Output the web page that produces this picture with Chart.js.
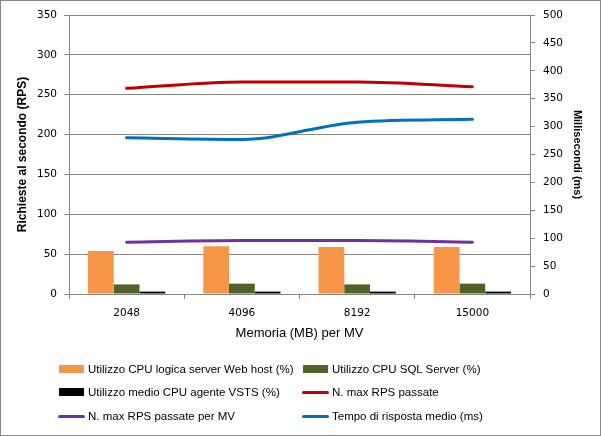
<!DOCTYPE html>
<html><head><meta charset="utf-8">
<script src="https://cdn.jsdelivr.net/npm/chart.js@4/dist/chart.umd.min.js"></script>
<style>
html,body{margin:0;padding:0;background:#fff;}
#wrap{position:relative;width:601px;height:436px;}
#legend{position:absolute;left:0;top:0;width:601px;height:436px;pointer-events:none;font-family:"Liberation Sans",Arial,sans-serif;font-size:11.5px;color:#000;}
.li{position:absolute;height:16px;line-height:16px;white-space:nowrap;}
.sw{position:absolute;left:0;}
.tx{position:absolute;left:29px;top:0;}
</style></head>
<body>
<div id="wrap"><canvas id="c" width="601" height="436"></canvas><div id="legend"></div></div>
<script>
const categories = ['2048', '4096', '8192', '15000'];
const webHostCpu = [54, 60, 59, 59];
const sqlCpu = [12, 13, 12, 13];
const agentCpu = [3, 3, 3, 3];
const maxRps = [258, 266, 266, 260];
const maxRpsPerVm = [65, 67, 67, 65];
const responseMs = [280, 277, 308, 313];

const seriesNames = [
  'Utilizzo CPU logica server Web host (%)',
  'Utilizzo CPU SQL Server (%)',
  'Utilizzo medio CPU agente VSTS (%)',
  'N. max RPS passate',
  'N. max RPS passate per MV',
  'Tempo di risposta medio (ms)'
];
const xTitle = 'Memoria (MB) per MV';
const yTitle = 'Richieste al secondo (RPS)';
const y1Title = 'Millisecondi (ms)';

const colors = ['#F79646', '#4F6228', '#000000', '#C00000', '#7030A0', '#0070C0'];
const grid = '#868686';
const tickFont = {family: '"DejaVu Sans", Verdana, sans-serif', size: 10.5};

function bar(i, data) {
  return {type: 'bar', label: seriesNames[i], data, backgroundColor: colors[i], borderWidth: 0,
    yAxisID: 'y', categoryPercentage: 0.67, barPercentage: 1.0, order: 2};
}
function line(i, data, axis) {
  return {type: 'line', label: seriesNames[i], data, borderColor: colors[i], backgroundColor: colors[i],
    borderWidth: 3, pointRadius: 0, cubicInterpolationMode: 'monotone', yAxisID: axis, order: 1, borderCapStyle: 'round'};
}

const borderPlugin = {
  id: 'outerBorder',
  afterDraw(chart) {
    const ctx = chart.ctx;
    ctx.save();
    ctx.strokeStyle = '#888';
    ctx.lineWidth = 1;
    ctx.strokeRect(0.5, 0.5, chart.width - 1, chart.height - 1);
    ctx.restore();
  }
};

const chart = new Chart(document.getElementById('c'), {
  data: {
    labels: categories,
    datasets: [
      bar(0, webHostCpu), bar(1, sqlCpu), bar(2, agentCpu),
      line(3, maxRps, 'y'), line(4, maxRpsPerVm, 'y'), line(5, responseMs, 'y1')
    ]
  },
  options: {
    responsive: false, animation: false, devicePixelRatio: 1,
    layout: {padding: {left: 0, right: 0, top: 15, bottom: 93}},
    plugins: {legend: {display: false}, tooltip: {enabled: false}},
    scales: {
      x: {
        offset: true,
        grid: {display: true, drawOnChartArea: false, offset: true, color: grid, tickLength: 5},
        border: {color: grid},
        ticks: {font: tickFont, color: '#000', padding: 8, maxRotation: 0},
        title: {display: true, text: xTitle, color: '#000', font: {family: '"Liberation Sans", Arial, sans-serif', size: 13}, padding: {top: 2, bottom: 2}},
        afterFit(s) { s.height = 49; }
      },
      y: {
        position: 'left', min: 0, max: 350,
        ticks: {stepSize: 50, font: tickFont, color: '#000', padding: 7},
        grid: {color: grid, tickLength: 5},
        border: {color: grid},
        title: {display: true, text: yTitle, color: '#000', font: {family: '"Liberation Sans", Arial, sans-serif', size: 12, weight: 'bold'}, padding: {top: 15, bottom: 0}},
        afterFit(s) { s.width = 69; }
      },
      y1: {
        position: 'right', min: 0, max: 500,
        ticks: {stepSize: 50, font: tickFont, color: '#000', padding: 8},
        grid: {drawOnChartArea: false, color: grid, tickLength: 5},
        border: {color: grid},
        title: {display: true, text: y1Title, color: '#000', font: {family: '"Liberation Sans", Arial, sans-serif', size: 11, weight: 'bold'}, padding: {top: 17, bottom: 0}},
        afterFit(s) { s.width = 71; }
      }
    }
  },
  plugins: [borderPlugin]
});

// HTML legend built from the chart's datasets (2 columns, 3 rows)
const legendPos = [[59, 369], [303, 369], [59, 392], [303, 392], [59, 416], [303, 416]];
const leg = document.getElementById('legend');
chart.data.datasets.forEach((ds, i) => {
  const d = document.createElement('div');
  d.className = 'li';
  d.style.left = legendPos[i][0] + 'px';
  d.style.top = (legendPos[i][1] - 8) + 'px';
  const sw = document.createElement('div');
  sw.className = 'sw';
  if (ds.type === 'bar') {
    sw.style.cssText = 'left:0;top:4px;width:25px;height:8px;background:' + ds.backgroundColor;
  } else {
    sw.style.cssText = 'left:-1px;top:7px;width:27px;height:3px;border-radius:1.5px;background:' + ds.borderColor;
  }
  const tx = document.createElement('div');
  tx.className = 'tx';
  tx.textContent = ds.label;
  d.appendChild(sw); d.appendChild(tx);
  leg.appendChild(d);
});
</script>
</body></html>
